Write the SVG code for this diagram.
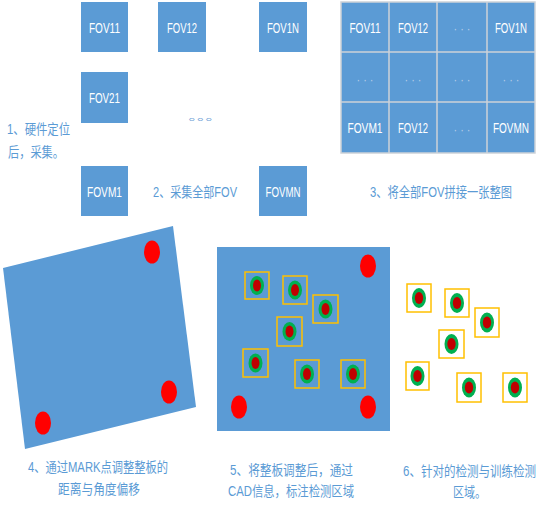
<svg xmlns="http://www.w3.org/2000/svg" width="545" height="506" viewBox="0 0 545 506">
<style>
.fov{fill:#5b9bd5}
.ft{fill:#ffffff;font-family:"Liberation Sans","Noto Sans CJK SC",sans-serif;font-size:14px;text-anchor:middle}
.dt{fill:#b8cde8;font-family:"Liberation Sans",sans-serif;font-size:13px;text-anchor:middle}
.cap{fill:#5b9bd5;font-family:"Liberation Sans","Noto Sans CJK SC",sans-serif;font-size:14px}
.grid{stroke:#cdd2d8;stroke-width:1.5;fill:none}
.tb{fill:none;stroke:#ffc000;stroke-width:1.5}
.g{fill:#00b050}
.r{fill:#c00000}
.mk{fill:#ff0000}
</style>
<rect width="545" height="506" fill="#ffffff"/>
<g id="fov11"><rect class="fov" x="81" y="2" width="47" height="50"/><text class="ft" x="104.5" y="32.5" textLength="31" lengthAdjust="spacingAndGlyphs">FOV11</text></g>
<g id="fov12"><rect class="fov" x="158" y="2" width="48" height="50"/><text class="ft" x="182" y="32.5" textLength="30" lengthAdjust="spacingAndGlyphs">FOV12</text></g>
<g id="fov1n"><rect class="fov" x="259" y="2" width="48" height="50"/><text class="ft" x="283" y="32.5" textLength="32" lengthAdjust="spacingAndGlyphs">FOV1N</text></g>
<g id="fov21"><rect class="fov" x="81" y="72" width="47" height="51"/><text class="ft" x="104.5" y="102.5" textLength="31" lengthAdjust="spacingAndGlyphs">FOV21</text></g>
<g id="fovm1"><rect class="fov" x="81" y="166" width="47" height="50"/><text class="ft" x="104.5" y="196.5" textLength="35" lengthAdjust="spacingAndGlyphs">FOVM1</text></g>
<g id="fovmn"><rect class="fov" x="259" y="166" width="48" height="50"/><text class="ft" x="283" y="196.5" textLength="35" lengthAdjust="spacingAndGlyphs">FOVMN</text></g>
<text class="cap" x="188.5" y="120" style="font-size:9px;fill:#6f9fd6" textLength="34" lengthAdjust="spacingAndGlyphs">。。。</text>
<g id="caption1"><text class="cap" x="7" y="134" textLength="63" lengthAdjust="spacingAndGlyphs">1、硬件定位</text><text class="cap" x="8" y="157" textLength="56" lengthAdjust="spacingAndGlyphs">后，采集。</text></g>
<text class="cap" x="153" y="197" textLength="84" lengthAdjust="spacingAndGlyphs">2、采集全部FOV</text>
<g id="mosaic">
<rect class="fov" x="341" y="2" width="194" height="151"/>
<path class="grid" d="M341 2H535V153H341Z M389 2V153 M437 2V153 M487 2V153 M341 52H535 M341 102H535"/>
<text class="ft" x="365" y="32.5" textLength="31" lengthAdjust="spacingAndGlyphs">FOV11</text>
<text class="ft" x="413" y="32.5" textLength="30" lengthAdjust="spacingAndGlyphs">FOV12</text>
<text class="dt" x="462" y="33" textLength="17" lengthAdjust="spacingAndGlyphs">· · ·</text>
<text class="ft" x="511" y="32.5" textLength="32" lengthAdjust="spacingAndGlyphs">FOV1N</text>
<text class="dt" x="365" y="84" textLength="17" lengthAdjust="spacingAndGlyphs">· · ·</text>
<text class="dt" x="413" y="84" textLength="17" lengthAdjust="spacingAndGlyphs">· · ·</text>
<text class="dt" x="462" y="84" textLength="17" lengthAdjust="spacingAndGlyphs">· · ·</text>
<text class="dt" x="511" y="84" textLength="17" lengthAdjust="spacingAndGlyphs">· · ·</text>
<text class="ft" x="365" y="133" textLength="35" lengthAdjust="spacingAndGlyphs">FOVM1</text>
<text class="ft" x="413" y="133" textLength="30" lengthAdjust="spacingAndGlyphs">FOV12</text>
<text class="dt" x="462" y="134" textLength="17" lengthAdjust="spacingAndGlyphs">· · ·</text>
<text class="ft" x="511" y="133" textLength="36" lengthAdjust="spacingAndGlyphs">FOVMN</text>
</g>
<text class="cap" x="370" y="197" textLength="142" lengthAdjust="spacingAndGlyphs">3、将全部FOV拼接一张整图</text>
<g id="tilted-board">
<polygon class="fov" points="3,268 173,226 196,407 25,449"/>
<ellipse class="mk" cx="152" cy="252" rx="8" ry="11.5"/>
<ellipse class="mk" cx="169" cy="392" rx="8" ry="11.5"/>
<ellipse class="mk" cx="43" cy="423" rx="8" ry="11.5"/>
</g>
<g id="caption4"><text class="cap" x="28" y="472" textLength="140" lengthAdjust="spacingAndGlyphs">4、通过MARK点调整整板的</text><text class="cap" x="58" y="494" textLength="82" lengthAdjust="spacingAndGlyphs">距离与角度偏移</text></g>
<g id="aligned-board">
<rect class="fov" x="217" y="247" width="173" height="184"/>
<ellipse class="mk" cx="368" cy="266" rx="8" ry="11.5"/>
<ellipse class="mk" cx="239" cy="407" rx="8" ry="11.5"/>
<ellipse class="mk" cx="368" cy="407" rx="8" ry="11.5"/>
<g id="t5-1"><rect class="tb" x="245" y="272" width="24" height="27"/><ellipse class="g" cx="257" cy="285.5" rx="7" ry="9.5"/><ellipse class="r" cx="257" cy="285.5" rx="4" ry="6"/></g>
<g id="t5-2"><rect class="tb" x="283" y="276" width="24" height="28"/><ellipse class="g" cx="295" cy="290" rx="7" ry="9.5"/><ellipse class="r" cx="295" cy="290" rx="4" ry="6"/></g>
<g id="t5-3"><rect class="tb" x="313" y="295" width="25" height="28"/><ellipse class="g" cx="325.5" cy="309" rx="7" ry="9.5"/><ellipse class="r" cx="325.5" cy="309" rx="4" ry="6"/></g>
<g id="t5-4"><rect class="tb" x="277" y="317" width="25" height="29"/><ellipse class="g" cx="289.5" cy="331.5" rx="7" ry="9.5"/><ellipse class="r" cx="289.5" cy="331.5" rx="4" ry="6"/></g>
<g id="t5-5"><rect class="tb" x="243" y="349" width="25" height="28"/><ellipse class="g" cx="255.5" cy="363" rx="7" ry="9.5"/><ellipse class="r" cx="255.5" cy="363" rx="4" ry="6"/></g>
<g id="t5-6"><rect class="tb" x="295" y="360" width="24" height="28"/><ellipse class="g" cx="307" cy="374" rx="7" ry="9.5"/><ellipse class="r" cx="307" cy="374" rx="4" ry="6"/></g>
<g id="t5-7"><rect class="tb" x="341" y="360" width="24" height="28"/><ellipse class="g" cx="353" cy="374" rx="7" ry="9.5"/><ellipse class="r" cx="353" cy="374" rx="4" ry="6"/></g>
</g>
<g id="caption5"><text class="cap" x="230" y="475" textLength="123" lengthAdjust="spacingAndGlyphs">5、将整板调整后，通过</text><text class="cap" x="228" y="496" textLength="126" lengthAdjust="spacingAndGlyphs">CAD信息，标注检测区域</text></g>
<g id="regions">
<g id="t6-1"><rect class="tb" x="407" y="284" width="24" height="28"/><ellipse class="g" cx="419" cy="298" rx="7" ry="10"/><ellipse class="r" cx="419" cy="298" rx="4.2" ry="6"/></g>
<g id="t6-2"><rect class="tb" x="445" y="289" width="24" height="28"/><ellipse class="g" cx="457" cy="303" rx="7" ry="10"/><ellipse class="r" cx="457" cy="303" rx="4.2" ry="6"/></g>
<g id="t6-3"><rect class="tb" x="475" y="308" width="24" height="29"/><ellipse class="g" cx="487" cy="322.5" rx="7" ry="10"/><ellipse class="r" cx="487" cy="322.5" rx="4.2" ry="6"/></g>
<g id="t6-4"><rect class="tb" x="439" y="330" width="25" height="28"/><ellipse class="g" cx="451.5" cy="344" rx="7" ry="10"/><ellipse class="r" cx="451.5" cy="344" rx="4.2" ry="6"/></g>
<g id="t6-5"><rect class="tb" x="406" y="362" width="23" height="28"/><ellipse class="g" cx="417.5" cy="376" rx="7" ry="10"/><ellipse class="r" cx="417.5" cy="376" rx="4.2" ry="6"/></g>
<g id="t6-6"><rect class="tb" x="457" y="373" width="24" height="29"/><ellipse class="g" cx="469" cy="387.5" rx="7" ry="10"/><ellipse class="r" cx="469" cy="387.5" rx="4.2" ry="6"/></g>
<g id="t6-7"><rect class="tb" x="503" y="373" width="24" height="29"/><ellipse class="g" cx="515" cy="387.5" rx="7" ry="10"/><ellipse class="r" cx="515" cy="387.5" rx="4.2" ry="6"/></g>
</g>
<g id="caption6"><text class="cap" x="403" y="476" textLength="133" lengthAdjust="spacingAndGlyphs">6、针对的检测与训练检测</text><text class="cap" x="453" y="497" textLength="33" lengthAdjust="spacingAndGlyphs">区域。</text></g>
<g id="connectors"/>
</svg>
